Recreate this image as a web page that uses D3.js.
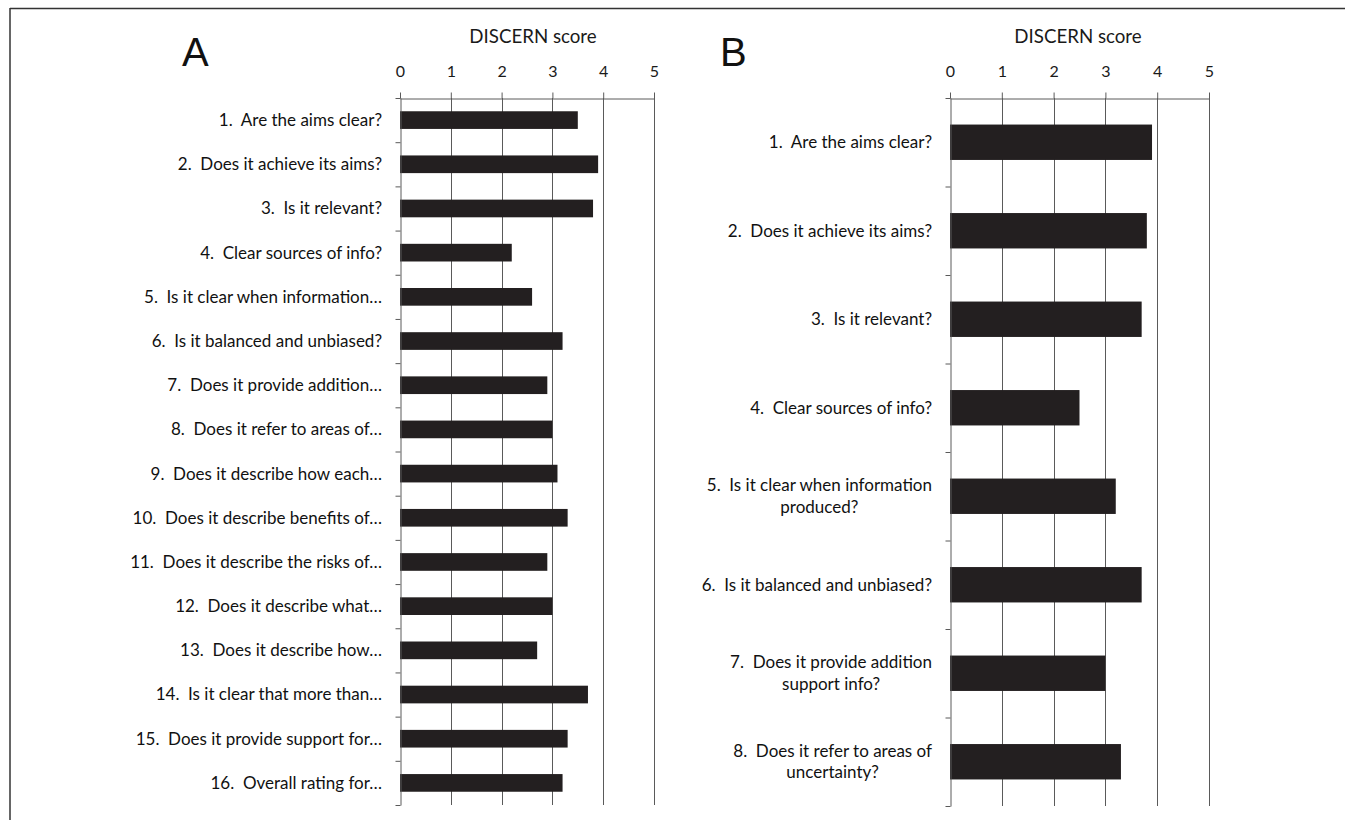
<!DOCTYPE html>
<html>
<head>
<meta charset="utf-8">
<script src="https://cdn.jsdelivr.net/npm/d3@7/dist/d3.min.js"></script>
<style>
  html, body { margin: 0; padding: 0; background: #fff; }
  svg text { white-space: pre; }
</style>
</head>
<body>
<svg id="chart" width="1345" height="820"></svg>
<script>
// ---- Data ----
const scoreTicks = [0, 1, 2, 3, 4, 5];
const axisTitle = "DISCERN score";

const categoriesA = [
  "1.  Are the aims clear?",
  "2.  Does it achieve its aims?",
  "3.  Is it relevant?",
  "4.  Clear sources of info?",
  "5.  Is it clear when information…",
  "6.  Is it balanced and unbiased?",
  "7.  Does it provide addition…",
  "8.  Does it refer to areas of…",
  "9.  Does it describe how each…",
  "10.  Does it describe benefits of…",
  "11.  Does it describe the risks of…",
  "12.  Does it describe what…",
  "13.  Does it describe how…",
  "14.  Is it clear that more than…",
  "15.  Does it provide support for…",
  "16.  Overall rating for…"
];
const valuesA = [3.5, 3.9, 3.8, 2.2, 2.6, 3.2, 2.9, 3.0, 3.1, 3.3, 2.9, 3.0, 2.7, 3.7, 3.3, 3.2];

const categoriesB = [
  ["1.  Are the aims clear?"],
  ["2.  Does it achieve its aims?"],
  ["3.  Is it relevant?"],
  ["4.  Clear sources of info?"],
  ["5.  Is it clear when information", "produced?"],
  ["6.  Is it balanced and unbiased?"],
  ["7.  Does it provide addition", "support info?"],
  ["8.  Does it refer to areas of", "uncertainty?"]
];
const valuesB = [3.9, 3.8, 3.7, 2.5, 3.2, 3.7, 3.0, 3.3];

// ---- Styles ----
const LABEL_FONT = "Lato, 'Open Sans', sans-serif";
const LINE_COLOR = "#5a5a5a";
const BAR_COLOR = "#231f20";

const svg = d3.select("#chart");

// frame lines
svg.append("line").attr("x1", 10).attr("x2", 1345).attr("y1", 8.5).attr("y2", 8.5)
  .attr("stroke", "#333").attr("stroke-width", 1.5);
svg.append("line").attr("x1", 10).attr("x2", 10).attr("y1", 8).attr("y2", 820)
  .attr("stroke", "#333").attr("stroke-width", 1.5);

function panel(cfg) {
  const n = cfg.values.length;
  const x = d3.scaleLinear().domain([0, 5]).range([cfg.x0, cfg.x1]);
  const y = d3.scaleBand().domain(d3.range(n)).range([cfg.y0, cfg.y1])
    .paddingInner(0.6).paddingOuter(0.3);
  const yEdge = d3.scaleLinear().domain([0, n]).range([cfg.y0, cfg.y1]);

  const g = svg.append("g");

  // panel letter
  g.append("text").attr("x", cfg.letterX).attr("y", 66)
    .attr("font-family", "'Liberation Sans', Arial, sans-serif")
    .attr("font-size", 40).attr("fill", "#111").text(cfg.letter);

  // title
  g.append("text").attr("x", cfg.titleX).attr("y", 43)
    .attr("text-anchor", "middle")
    .attr("font-family", LABEL_FONT).attr("font-size", 18.7).attr("fill", "#1a1a1a")
    .text(axisTitle);

  // gridlines
  g.append("g").selectAll("line").data(scoreTicks.filter(t => t > 0)).join("line")
    .attr("x1", d => Math.round(x(d)) + 0.5).attr("x2", d => Math.round(x(d)) + 0.5)
    .attr("y1", cfg.y0).attr("y2", cfg.y1)
    .attr("stroke", LINE_COLOR).attr("stroke-width", 1);

  // bars
  g.append("g").selectAll("rect").data(cfg.values).join("rect")
    .attr("x", x(0))
    .attr("y", (d, i) => y(i))
    .attr("width", d => x(d) - x(0))
    .attr("height", y.bandwidth())
    .attr("fill", BAR_COLOR);

  // top axis
  const top = g.append("g").attr("transform", `translate(0,${cfg.y0 + 0.5})`)
    .call(d3.axisTop(x).tickValues(scoreTicks).tickSize(6).tickSizeOuter(0).tickPadding(16)
      .tickFormat(d3.format("d")));
  top.select(".domain").attr("stroke", LINE_COLOR);
  top.selectAll(".tick line").attr("stroke", LINE_COLOR);
  top.selectAll(".tick text").attr("font-family", LABEL_FONT).attr("font-size", 16)
    .attr("fill", "#1a1a1a");

  // left axis (category boundaries)
  const left = g.append("g").attr("transform", `translate(${Math.round(cfg.x0) + 0.5},0)`)
    .call(d3.axisLeft(yEdge).tickValues(d3.range(n + 1)).tickSize(5).tickSizeOuter(0)
      .tickFormat(""));
  left.select(".domain").attr("stroke", LINE_COLOR);
  left.selectAll(".tick line").attr("stroke", LINE_COLOR);

  // category labels
  const labelRight = cfg.x0 - 18;
  const lineH = 21.5;
  cfg.labels.forEach((lines, i) => {
    const arr = Array.isArray(lines) ? lines : [lines];
    const cy = y(i) + y.bandwidth() / 2;
    const tg = g.append("g");
    const texts = arr.map((s, k) => tg.append("text")
      .attr("font-family", LABEL_FONT).attr("font-size", cfg.fontSize).attr("fill", "#111")
      .attr("dy", "0.35em")
      .attr("y", cy + (k - (arr.length - 1) / 2) * lineH)
      .text(s));
    const widths = texts.map(t => t.node().getComputedTextLength());
    const maxW = d3.max(widths);
    const cx = labelRight - maxW / 2;
    texts.forEach(t => t.attr("x", cx).attr("text-anchor", "middle"));
  });
}

panel({
  letter: "A", letterX: 182, titleX: 533,
  x0: 400, x1: 654, y0: 98, y1: 805,
  values: valuesA, labels: categoriesA, fontSize: 17
});
panel({
  letter: "B", letterX: 720, titleX: 1078,
  x0: 950, x1: 1209, y0: 98, y1: 806,
  values: valuesB, labels: categoriesB, fontSize: 17
});
</script>
</body>
</html>
